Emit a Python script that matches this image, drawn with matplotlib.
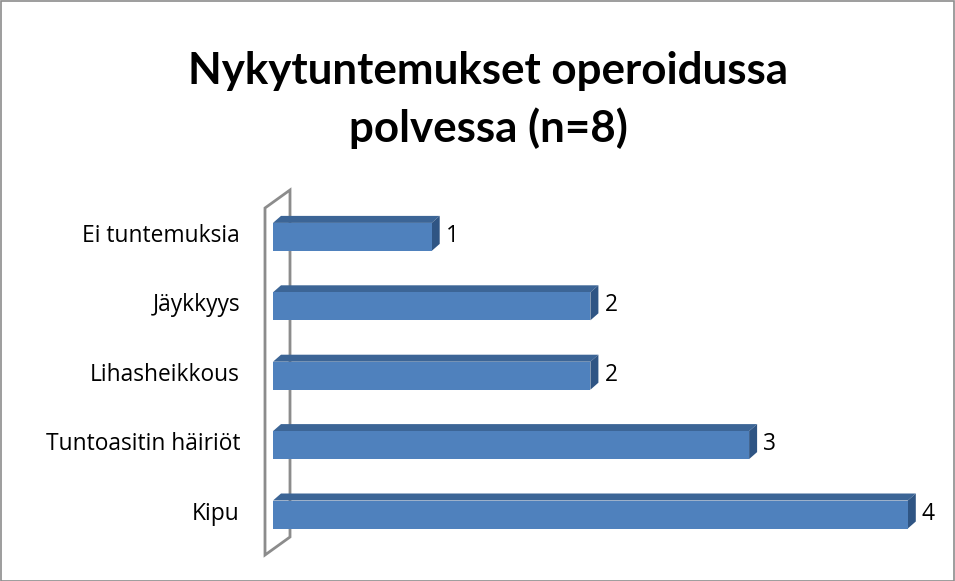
import matplotlib
matplotlib.use("Agg")
import matplotlib.pyplot as plt
from matplotlib.patches import Polygon, Rectangle

categories = ["Kipu", "Tuntoasitin häiriöt", "Lihasheikkous", "Jäykkyys", "Ei tuntemuksia"]
values = [4, 3, 2, 2, 1]
title = "Nykytuntemukset operoidussa\npolvessa (n=8)"

FONT = ["Lato", "DejaVu Sans"]
LFONT = ["Open Sans", "DejaVu Sans"]
W, H = 955, 581
fig = plt.figure(figsize=(W / 100, H / 100), dpi=100)

# figure border
fig.patches.append(Rectangle((0.5 / W, 0.5 / H), 1 - 1.5 / W, 1 - 1.5 / H, transform=fig.transFigure,
                             fill=False, edgecolor="#8c8c8c", linewidth=1.2))

# axes: x value 0 at px 273, 158.7 px per unit; y index 0 at px 514.5, 69.4 px per step
x0_px, ux = 273, 158.7
y0_px, uy = 514.5, 69.4
xlim = (0, 4.2)
ylim = (-0.6, 4.6)
left = x0_px / W
width = (xlim[1] - xlim[0]) * ux / W
bottom_px = y0_px - ylim[0] * uy
top_px = y0_px - ylim[1] * uy
ax = fig.add_axes([left, 1 - bottom_px / H, width, (bottom_px - top_px) / H])
ax.set_xlim(*xlim)
ax.set_ylim(*ylim)
ax.axis("off")

# depth offsets (data units)
bdx, bdy = 8 / ux, 7 / uy
wall_front_x = -8 / ux
wall_back_x = 17 / ux
wall_y0 = (y0_px - 555) / uy
wall_y1 = (y0_px - 208) / uy
wdy = 18 / uy

wall = Polygon([(wall_front_x, wall_y0), (wall_front_x, wall_y1),
                (wall_back_x, wall_y1 + wdy), (wall_back_x, wall_y0 + wdy)],
               closed=True, facecolor="none", edgecolor="#8c8c8c", linewidth=2, clip_on=False, zorder=1)
ax.add_patch(wall)

h = 28 / uy
front_c = "#4F81BD"
top_c = "#3C6596"
side_c = "#2F5584"
for i, (cat, v) in enumerate(zip(categories, values)):
    yb, yt = i - h / 2, i + h / 2
    top = Polygon([(0, yt), (v, yt), (v + bdx, yt + bdy), (bdx, yt + bdy)], closed=True,
                  facecolor=top_c, edgecolor="none", clip_on=False, zorder=2)
    side = Polygon([(v, yb), (v, yt), (v + bdx, yt + bdy), (v + bdx, yb + bdy)], closed=True,
                   facecolor=side_c, edgecolor="none", clip_on=False, zorder=2)
    front = Rectangle((0, yb), v, h, facecolor=front_c, edgecolor="none", clip_on=False, zorder=3)
    ax.add_patch(top)
    ax.add_patch(side)
    ax.add_patch(front)
    ax.annotate(str(v), (v + bdx, i), xytext=(6, 1), textcoords="offset pixels",
                ha="left", va="center", fontsize=16.4, family=LFONT, color="black")
    ax.annotate(cat, (0, i), xytext=(-(x0_px - 240), 1), textcoords="offset pixels",
                ha="right", va="center", fontsize=16.4, family=LFONT, color="black")

fig.text(488 / W, 1 - 100 / H, title, ha="center", va="center", fontsize=31.6, fontweight="bold",
         family=FONT, linespacing=1.48)

fig.savefig("out.png", dpi=100)
